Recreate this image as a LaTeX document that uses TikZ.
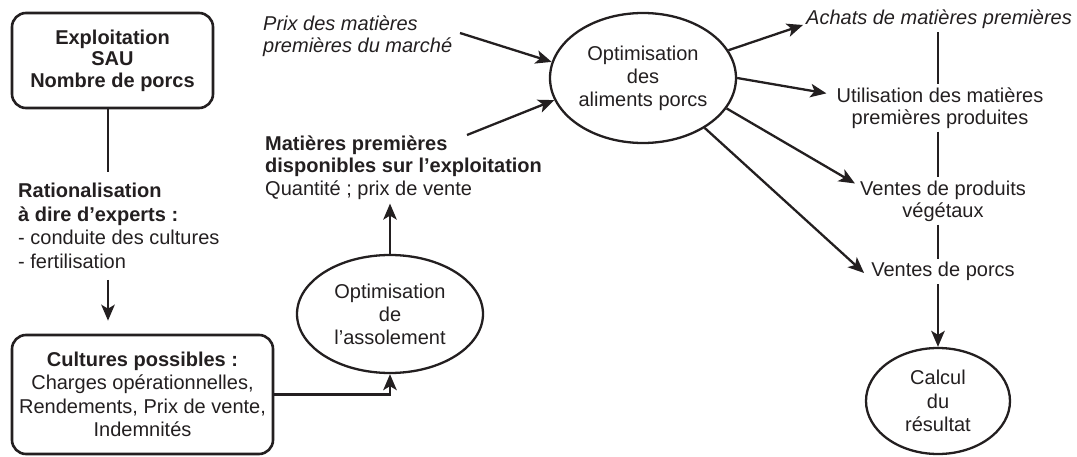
\documentclass[tikz,border=0pt]{standalone}
\usepackage{fontspec}
\setmainfont{Liberation Sans}
\usetikzlibrary{arrows.meta,shapes.geometric,calc}
\definecolor{ink}{HTML}{231F20}
\begin{document}
\begin{tikzpicture}[x=1pt,y=-1pt,
  every node/.style={text=ink,font=\fontsize{20}{22.5}\selectfont},
  box/.style={draw=ink,line width=2.6pt,rounded corners=14pt,align=center,inner sep=0pt},
  ell/.style={ellipse,draw=ink,line width=2.3pt,align=center,inner xsep=-8pt,inner ysep=0pt},
  txt/.style={align=center,inner sep=3pt},
  lefttxt/.style={anchor=north west,align=left,inner sep=0pt},
  arr/.style={draw=ink,line width=2.3pt,-{Stealth[length=16pt,width=13.5pt,inset=4pt]}},
  ln/.style={draw=ink,line width=2.3pt}]
\useasboundingbox (0,0) rectangle (1077,457);

% left column
\node[box,minimum width=201pt,minimum height=95pt,font=\fontsize{20}{21.5}\selectfont\bfseries] (expl) at (112.5,60.5) {Exploitation\\SAU\\Nombre de porcs};
\node[lefttxt,font=\fontsize{20}{23.5}\selectfont] (rat) at (18,183) {\textbf{Rationalisation}\\\textbf{à dire d’experts :}\\- conduite des cultures\\- fertilisation};
\coordinate (c1) at (108,172);
\coordinate (c2) at (108,280);
\draw[ln] (c1 |- expl.south) -- (c1);
\node[box,minimum width=261pt,minimum height=119pt,font=\fontsize{20}{23.5}\selectfont] (cult) at (142.5,394.5) {\textbf{Cultures possibles :}\\Charges opérationnelles,\\Rendements, Prix de vente,\\Indemnités};
\draw[arr] (c2) -- ([yshift=13pt]cult.north -| c2);

% middle
\node[ell,minimum width=186pt,minimum height=118pt,font=\fontsize{20}{23}\selectfont] (assol) at (390,314) {Optimisation\\de\\l’assolement};
\draw[arr] (cult.east) -| (assol.south);
\node[lefttxt] (mat) at (265,135.4) {\textbf{Matières premières}\\\textbf{disponibles sur l’exploitation}\\Quantité ; prix de vente};
\draw[arr] (assol.north) -- ([yshift=-4pt]mat.south -| assol.north);
\node[lefttxt,font=\fontsize{20}{22.5}\selectfont\itshape] (prix) at (263,15.4) {Prix des matières\\premières du marché};

\node[ell,minimum width=186pt,minimum height=130pt,font=\fontsize{20}{23}\selectfont] (alim) at (643,78) {Optimisation\\des\\aliments porcs};
\coordinate (p1) at (460,33);
\coordinate (m1) at (467,135);
\draw[arr] (p1) -- (alim.170);
\draw[arr] (m1) -- (alim.194);

% right column
\node[txt,anchor=base,font=\fontsize{20}{22}\selectfont\itshape] (ach) at (939,25) {Achats de matières premières};
\node[txt,font=\fontsize{20}{22}\selectfont] (util) at (940,108) {Utilisation des matières\\premières produites};
\node[txt,font=\fontsize{20}{22}\selectfont] (veg) at (943,201) {Ventes de produits\\végétaux};
\node[txt,anchor=base] (porcs) at (943,277) {Ventes de porcs};
\node[ell,minimum width=144pt,minimum height=106pt,font=\fontsize{20}{23.5}\selectfont] (calc) at (938,401) {Calcul\\du\\résultat};

\coordinate (colx) at (938,0);
\draw[ln] (ach.south -| colx) -- (util.north -| colx);
\draw[ln] (util.south -| colx) -- (veg.north -| colx);
\draw[ln] (veg.south -| colx) -- (porcs.north -| colx);
\draw[arr] (porcs.south -| colx) -- (calc.north);

\draw[arr] (alim.18) -- (ach.base west);
\draw[arr] (alim.0) -- ($(util.north west)+(-7,9)$);
\draw[arr] (alim.-20) -- ($(veg.north west)+(-2,6)$);
\draw[arr] (alim.-39) -- ($(porcs.base west)+(-4,-4)$);
\end{tikzpicture}
\end{document}
